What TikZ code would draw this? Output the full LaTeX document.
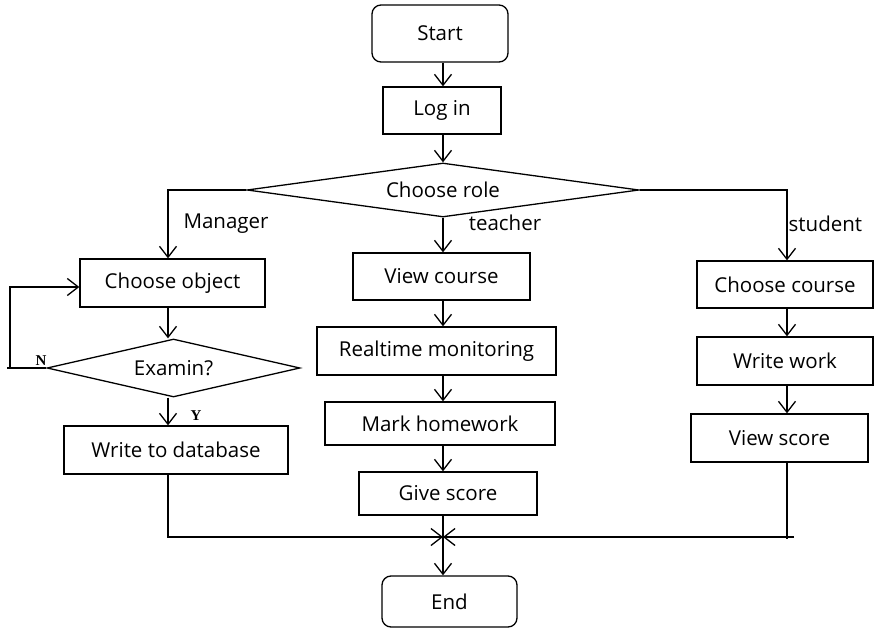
\documentclass[tikz,border=0pt]{standalone}
\usepackage{fontspec}
\setmainfont{Open Sans}
\newfontfamily\labelserif{Liberation Serif}
\usetikzlibrary{shapes.geometric,arrows.meta,calc}
\begin{document}
\begin{tikzpicture}[x=1pt,y=-1pt,
  line width=1.3pt,
  font=\fontsize{20.5}{23}\selectfont,
  box/.style={draw,rectangle,inner sep=0pt,minimum width=#1},
  term/.style={draw,rectangle,rounded corners=9pt,inner sep=0pt,minimum width=#1},
  decide/.style={draw,diamond,inner sep=0pt,shape aspect=8,minimum width=#1},
  arr/.style={-{Straight Barb[length=11pt,width=17pt,line width=1.3pt]}},
  lbl/.style={inner sep=0pt,anchor=center},
  yn/.style={inner sep=0pt,font=\labelserif\bfseries\fontsize{15}{15}\selectfont}]
\useasboundingbox (0,0) rectangle (876,629);

% main column
\node[term=136pt,minimum height=57pt] (start) at (440,33.5) {Start};
\node[box=118pt,minimum height=47pt] (login) at (442,110.5) {Log in};
\node[decide=392pt,minimum height=54pt] (role) at (443,190) {Choose role};

% manager branch
\node[box=185pt,minimum height=48pt] (co) at (172.5,283) {Choose object};
\node[decide=253pt,minimum height=58pt] (exam) at (173.5,368) {Examin?};
\node[box=224pt,minimum height=48pt] (wdb) at (176,450) {Write to database};

% teacher branch
\node[box=177pt,minimum height=47pt] (vc) at (441.5,276.5) {View course};
\node[box=239pt,minimum height=48pt] (rt) at (436.5,351) {Realtime monitoring};
\node[box=230pt,minimum height=43pt] (mh) at (440,423.5) {Mark homework};
\node[box=178pt,minimum height=43pt] (gs) at (448,493.5) {Give score};

% student branch
\node[box=176pt,minimum height=47pt] (cc) at (785,284.5) {Choose course};
\node[box=176pt,minimum height=48pt] (ww) at (785,361) {Write work};
\node[box=177pt,minimum height=48pt] (vs) at (779.5,438) {View score};

\node[term=135pt,minimum height=51pt] (endn) at (449.5,601.5) {End};

% column lines and joins
\coordinate (mx) at (443,0);
\coordinate (lx) at (168,0);
\coordinate (rx) at (787,0);
\coordinate (loopx) at (10,0);
\coordinate (merge) at (443,537);
\coordinate (rtail) at (794,537);

% branch labels
\node[lbl] at (226,224) {Manager};
\node[lbl] at (505,223) {teacher};
\node[lbl,anchor=west] at (788,224) {student};
\node[yn] at (41,361) {N};
\node[yn] at (196,416) {Y};

% main flow
\draw[arr] (mx |- start.south) -- (mx |- login.north);
\draw[arr] (mx |- login.south) -- (mx |- role.north);
\draw[arr] (mx |- role.south) -- (mx |- vc.north);
\draw[arr] (mx |- vc.south) -- (mx |- rt.north);
\draw[arr] (mx |- rt.south) -- (mx |- mh.north);
\draw[arr] (mx |- mh.south) -- (mx |- gs.north);
\draw[arr] (mx |- gs.south) -- (mx |- endn.north);

% manager branch
\draw[arr] (role.west) -- (lx |- role.west) -- (lx |- co.north);
\draw[arr] (lx |- co.south) -- (lx |- exam.north);
\draw[arr] (lx |- exam.south) -- (lx |- wdb.north);
\draw (exam.west) -- ($(loopx |- exam.west)+(-3,0)$);
\draw[arr] (loopx |- exam.west) -- ($(loopx |- co.west)+(0,4)$) -- ($(co.west)+(0,4)$);
\draw[arr] (lx |- wdb.south) -- (lx |- merge) -- (merge);

% student branch
\draw[arr] (role.east) -- (rx |- role.east) -- (rx |- cc.north);
\draw[arr] (rx |- cc.south) -- (rx |- ww.north);
\draw[arr] (rx |- ww.south) -- (rx |- vs.north);
\draw (rx |- vs.south) -- ($(rx |- merge)+(0,2)$);
\draw[arr] (rtail) -- (merge);
\end{tikzpicture}
\end{document}
